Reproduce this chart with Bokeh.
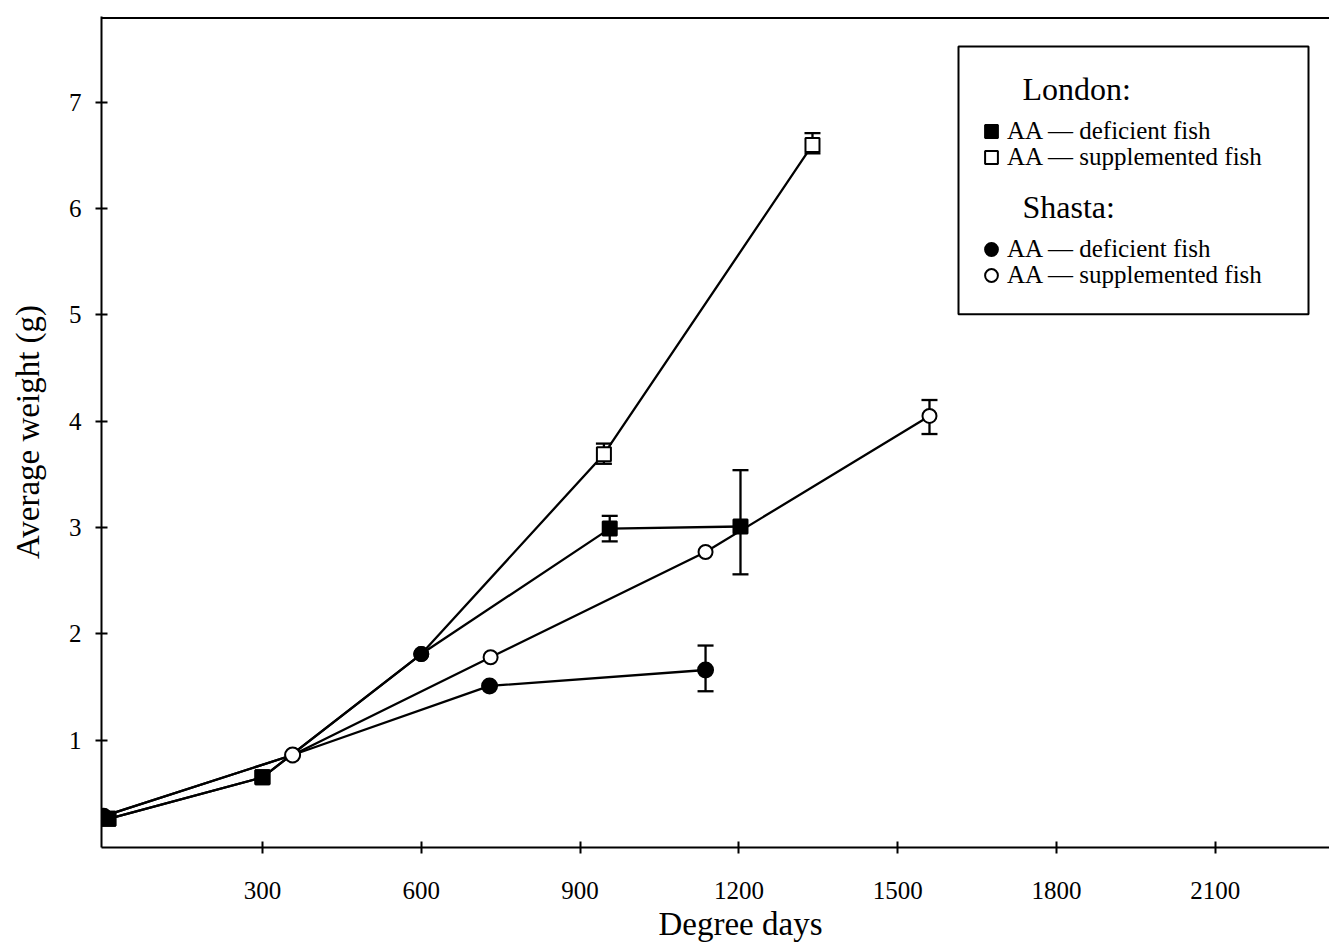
from bokeh.plotting import figure
from bokeh.models import (ColumnDataSource, Whisker, Legend, LegendItem, Label,
                          BoxAnnotation, Span, FixedTicker, Range1d, TeeHead, Title)
from bokeh.embed import file_html
from bokeh.resources import INLINE

# ---------------- data ----------------
x_ticks = [300, 600, 900, 1200, 1500, 1800, 2100]
y_ticks = [1, 2, 3, 4, 5, 6, 7]

london_def_x = [9, 300, 600, 956, 1203]
london_def_y = [0.26, 0.65, 1.81, 2.99, 3.01]
london_def_err_x = [956, 1203]
london_def_err_lo = [2.87, 2.56]
london_def_err_hi = [3.11, 3.54]

london_sup_x = [9, 300, 600, 945, 1339]
london_sup_y = [0.26, 0.65, 1.81, 3.69, 6.60]
london_sup_err_x = [945, 1339]
london_sup_err_lo = [3.60, 6.52]
london_sup_err_hi = [3.79, 6.71]

shasta_def_x = [0, 357, 729, 1137]
shasta_def_y = [0.285, 0.86, 1.51, 1.66]
shasta_def_err_x = [1137]
shasta_def_err_lo = [1.46]
shasta_def_err_hi = [1.89]

shasta_sup_x = [0, 357, 731, 1137, 1560]
shasta_sup_y = [0.285, 0.86, 1.78, 2.77, 4.05]
shasta_sup_err_x = [1560]
shasta_sup_err_lo = [3.88]
shasta_sup_err_hi = [4.20]

legend_headers = ["London:", "Shasta:"]
legend_labels = ["AA \u2014 deficient fish", "AA \u2014 supplemented fish"]

# ---------------- styles (per point markers of shared points) ----------------
london_def_marker = ["square", "square", "circle", "square", "square"]
london_def_fill = ["black", "black", "black", "black", "black"]
london_sup_marker = ["square", "square", "circle", "square", "square"]
london_sup_fill = ["black", "black", "black", "white", "white"]
shasta_def_marker = ["circle", "circle", "circle", "circle"]
shasta_def_fill = ["black", "white", "black", "black"]
shasta_sup_marker = ["circle", "circle", "circle", "circle", "circle"]
shasta_sup_fill = ["black", "white", "white", "white", "white"]

FONT = "Liberation Serif"
W, H = 1329, 943
LEFT, TOP, BOTTOM = 101, 16, 848
X0, XS = -4.0, 0.5294          # data start, px per unit
Y0, YS = -0.01, 106.42
x_end = X0 + (W - LEFT) / XS
y_end = Y0 + (BOTTOM - TOP) / YS


def dx(px):
    return X0 + (px - LEFT) / XS


def dy(py):
    return Y0 + (BOTTOM - py) / YS


p = figure(width=W, height=H, output_backend="svg", toolbar_location=None,
           x_range=Range1d(X0, x_end), y_range=Range1d(Y0, y_end),
           min_border_left=LEFT, min_border_right=0, min_border_top=TOP,
           min_border_bottom=H - BOTTOM)
p.outline_line_color = None
p.xgrid.visible = False
p.ygrid.visible = False
p.background_fill_color = "white"
p.border_fill_color = "white"

for ax, ticks in ((p.xaxis, x_ticks), (p.yaxis, y_ticks)):
    ax.ticker = FixedTicker(ticks=ticks)
    ax.minor_tick_line_color = None
    ax.major_tick_in = 6
    ax.major_tick_out = 6
    ax.major_tick_line_width = 2
    ax.axis_line_width = 2
    ax.major_label_text_font = FONT
    ax.major_label_text_font_size = "25px"
    ax.major_label_text_color = "black"

p.xaxis.major_label_standoff = 28
p.yaxis.major_label_standoff = 14
p.yaxis.axis_label = "Average weight (g)"
p.yaxis.axis_label_text_font = FONT
p.yaxis.axis_label_text_font_size = "33px"
p.yaxis.axis_label_text_font_style = "normal"
p.yaxis.axis_label_text_color = "black"
p.yaxis.axis_label_standoff = 20

p.add_layout(Title(text="Degree days", align="left", offset=557,
                   text_font=FONT, text_font_size="33px",
                   text_font_style="normal", text_color="black",
                   standoff=4), "below")

p.add_layout(Span(location=y_end - 0.015, dimension="width",
                  line_color="black", line_width=2))

series = [
    (london_sup_x, london_sup_y, london_sup_marker, london_sup_fill,
     london_sup_err_x, london_sup_err_lo, london_sup_err_hi, 14),
    (london_def_x, london_def_y, london_def_marker, london_def_fill,
     london_def_err_x, london_def_err_lo, london_def_err_hi, 14),
    (shasta_sup_x, shasta_sup_y, shasta_sup_marker, shasta_sup_fill,
     shasta_sup_err_x, shasta_sup_err_lo, shasta_sup_err_hi, 14),
    (shasta_def_x, shasta_def_y, shasta_def_marker, shasta_def_fill,
     shasta_def_err_x, shasta_def_err_lo, shasta_def_err_hi, 15),
]

for sx, sy, *_ in series:
    p.line(sx, sy, line_color="black", line_width=2.3)

scat = []
for sx, sy, mk, fc, ex, elo, ehi, size in series:
    esrc = ColumnDataSource(dict(x=ex, lo=elo, hi=ehi))
    w = Whisker(base="x", lower="lo", upper="hi", source=esrc,
                line_color="black", line_width=2.3, level="underlay",
                lower_head=TeeHead(size=16, line_width=2.3, line_color="black"),
                upper_head=TeeHead(size=16, line_width=2.3, line_color="black"))
    p.add_layout(w)
    src = ColumnDataSource(dict(x=sx, y=sy, marker=mk, fill=fc))
    r = p.scatter("x", "y", marker="marker", source=src, size=size,
                  fill_color="fill", line_color="black", line_width=2)
    scat.append(r)

# ---------------- legend ----------------
p.add_layout(BoxAnnotation(left=dx(958), right=dx(1308), top=dy(46), bottom=dy(314),
                           fill_alpha=0, line_color="black", line_alpha=1,
                           line_width=2))

p.add_layout(Label(x=dx(1022), y=dy(89), text=legend_headers[0], text_font=FONT,
                   text_font_size="32px", text_baseline="alphabetic",
                   text_color="black"))
p.add_layout(Label(x=dx(1022), y=dy(207), text=legend_headers[1], text_font=FONT,
                   text_font_size="32px", text_baseline="alphabetic",
                   text_color="black"))

GW = 32
GH = 32


def one_item(label, renderer, index, center):
    top = center - GH / 2
    return Legend(items=[LegendItem(label=label, renderers=[renderer], index=index)],
                  location=(991 - GW / 2 - LEFT, BOTTOM - (top + GH)),
                  orientation="vertical", glyph_width=GW, glyph_height=GH,
                  label_height=GH, spacing=0, padding=0, margin=0,
                  label_standoff=0, label_text_font=FONT,
                  label_text_font_size="25px", label_text_color="black",
                  border_line_color=None, background_fill_alpha=0)


p.add_layout(one_item(legend_labels[0], scat[1], 1, 132), "center")
p.add_layout(one_item(legend_labels[1], scat[0], 3, 158), "center")
p.add_layout(one_item(legend_labels[0], scat[3], 0, 250), "center")
p.add_layout(one_item(legend_labels[1], scat[2], 1, 276), "center")

open("out.html", "w").write(file_html(p, INLINE))
